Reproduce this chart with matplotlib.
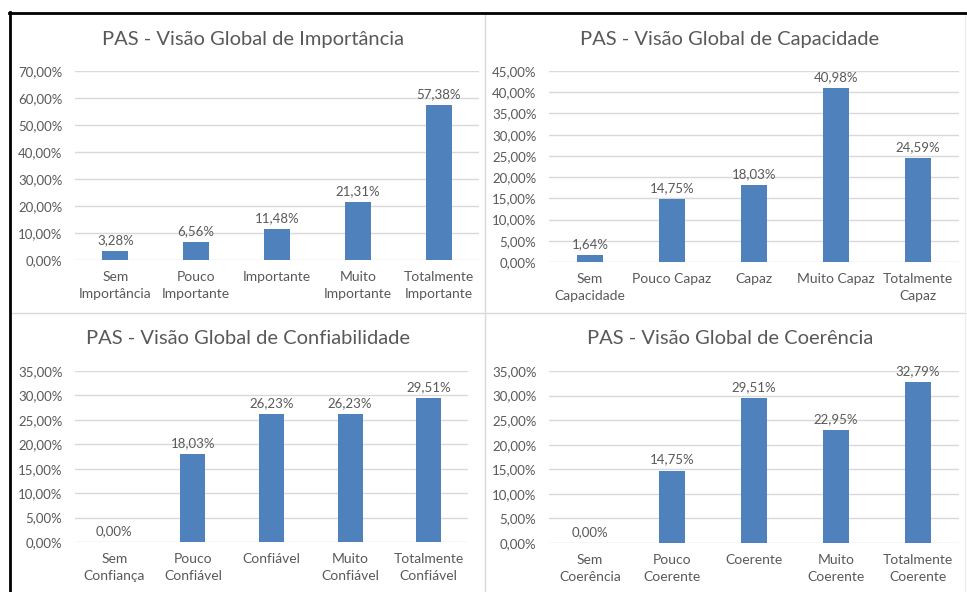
import matplotlib.pyplot as plt
from matplotlib.lines import Line2D
from matplotlib.ticker import FuncFormatter, MultipleLocator

plt.rcParams['font.family'] = ['Lato', 'DejaVu Sans']

W, H = 967, 592
txt = '#595959'
bar_color = '#4F81BD'
grid_color = '#D9D9D9'

# data
imp_cats = ['Sem\nImportância', 'Pouco\nImportante', 'Importante', 'Muito\nImportante', 'Totalmente\nImportante']
imp_vals = [3.28, 6.56, 11.48, 21.31, 57.38]

cap_cats = ['Sem\nCapacidade', 'Pouco Capaz', 'Capaz', 'Muito Capaz', 'Totalmente\nCapaz']
cap_vals = [1.64, 14.75, 18.03, 40.98, 24.59]

conf_cats = ['Sem\nConfiança', 'Pouco\nConfiável', 'Confiável', 'Muito\nConfiável', 'Totalmente\nConfiável']
conf_vals = [0.00, 18.03, 26.23, 26.23, 29.51]

coer_cats = ['Sem\nCoerência', 'Pouco\nCoerente', 'Coerente', 'Muito\nCoerente', 'Totalmente\nCoerente']
coer_vals = [0.00, 14.75, 29.51, 22.95, 32.79]

panels = [
    ('PAS - Visão Global de Importância', imp_cats, imp_vals, 70, 10, (75, 71, 479, 260), (253, 40)),
    ('PAS - Visão Global de Capacidade', cap_cats, cap_vals, 45, 5, (549, 71, 959, 262), (730, 40)),
    ('PAS - Visão Global de Confiabilidade', conf_cats, conf_vals, 35, 5, (75, 371, 468, 542), (248, 339)),
    ('PAS - Visão Global de Coerência', coer_cats, coer_vals, 35, 5, (549, 371, 959, 543), (730, 339)),
]


def pct(v, pos=None):
    return f'{v:.2f}%'.replace('.', ',')


fig = plt.figure(figsize=(W / 100, H / 100), dpi=100)
fig.patch.set_facecolor('white')

for title, cats, vals, ymax, step, (x0, y0, x1, y1), (tx, ty) in panels:
    ax = fig.add_axes([x0 / W, 1 - y1 / H, (x1 - x0) / W, (y1 - y0) / H])
    xs = range(len(cats))
    ax.bar(xs, vals, width=0.32, color=bar_color, zorder=3)
    for x, v in zip(xs, vals):
        ax.annotate(pct(v), (x, v), xytext=(0, 3.5), textcoords='offset points',
                    ha='center', va='bottom', fontsize=9.5, color=txt)
    ax.set_xlim(-0.5, len(cats) - 0.5)
    ax.set_ylim(0, ymax)
    ax.yaxis.set_major_locator(MultipleLocator(step))
    ax.yaxis.set_major_formatter(FuncFormatter(pct))
    ax.set_xticks(list(xs))
    ax.set_xticklabels(cats, fontsize=10, color=txt, linespacing=1.5)
    ax.tick_params(axis='x', length=0, pad=8)
    ax.tick_params(axis='y', length=0, pad=9, labelsize=9.5, labelcolor=txt)
    ax.grid(axis='y', color=grid_color, lw=1, zorder=0)
    ax.set_axisbelow(True)
    for s in ax.spines.values():
        s.set_visible(False)
    fig.text(tx / W, 1 - ty / H, title, ha='center', va='center', fontsize=14.5, color=txt)

# panel frame lines
def hline(y, xa, xb, color, lw):
    fig.add_artist(Line2D([xa / W, xb / W], [1 - y / H, 1 - y / H], color=color, lw=lw))

def vline(x, ya, yb, color, lw):
    fig.add_artist(Line2D([x / W, x / W], [1 - ya / H, 1 - yb / H], color=color, lw=lw))

vline(485, 13, 592, '#D9D9D9', 1)
hline(313, 10, 967, '#D9D9D9', 1)
vline(965, 13, 592, '#EDEDED', 1)
hline(12.5, 9, 967, 'black', 2)
vline(10, 12, 592, 'black', 2)

fig.savefig('out.png', dpi=100)
